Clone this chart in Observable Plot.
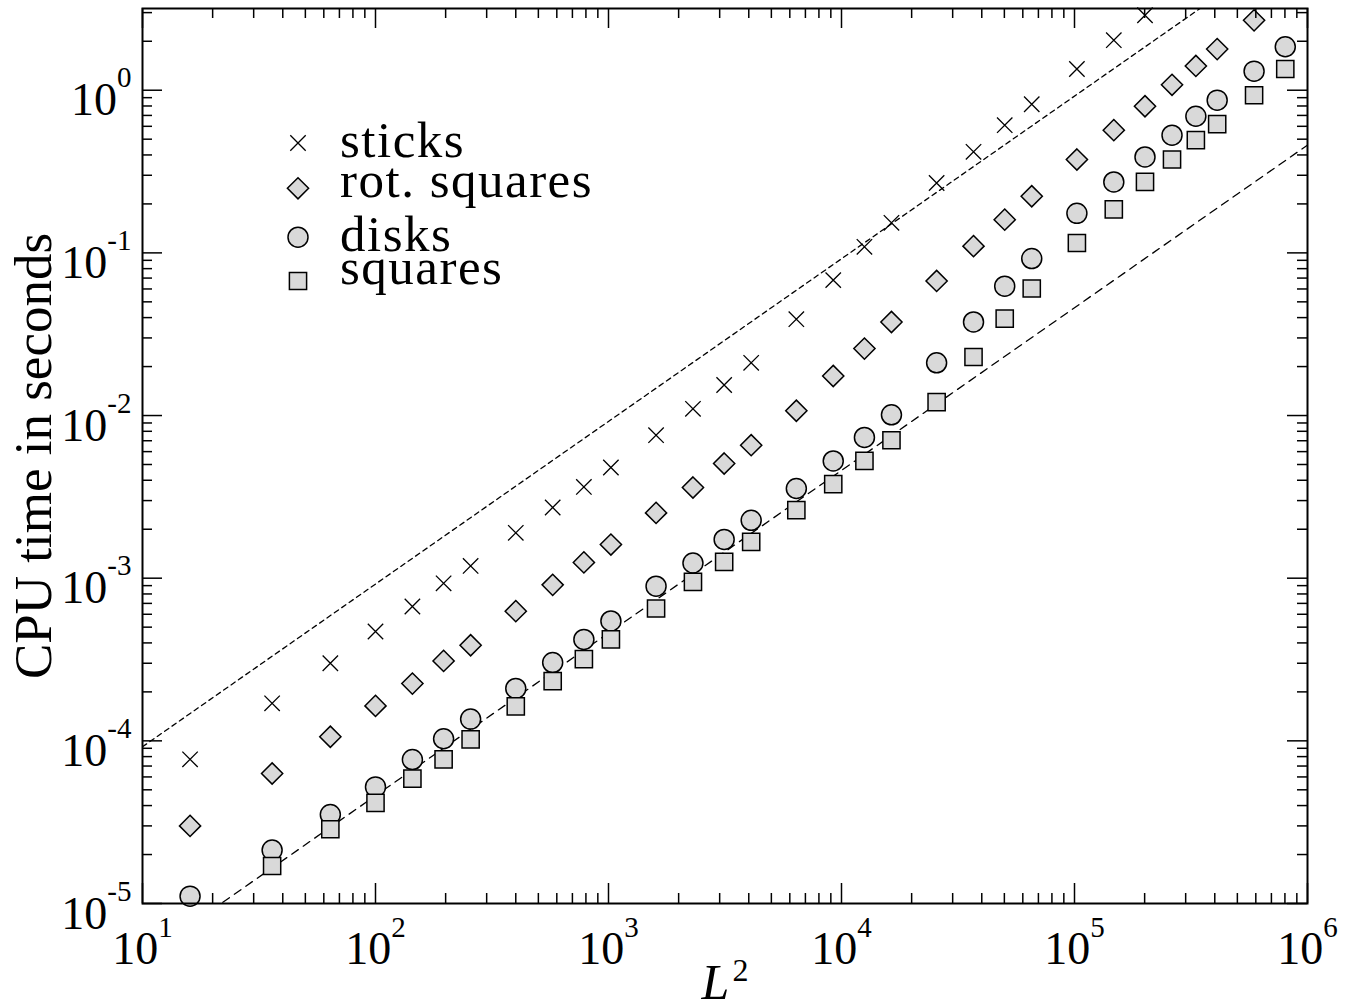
<!DOCTYPE html>
<html>
<head>
<meta charset="utf-8">
<script src="https://cdn.jsdelivr.net/npm/d3@7"></script>
<script src="https://cdn.jsdelivr.net/npm/@observablehq/plot@0.6"></script>
<style>
  html, body { margin: 0; padding: 0; background: #fff; }
  #chart svg { display: block; }
</style>
</head>
<body>
<div id="chart"></div>
<script>
// ---------- data ----------
const L2 = [16, 36, 64, 100, 144, 196, 256, 400, 576, 784, 1024, 1600, 2304, 3136, 4096, 6400, 9216,
            12544, 16384, 25600, 36864, 50176, 65536, 102400, 147456, 200704, 262144, 331776, 409600, 589824, 802816];

const sticks = [7.7e-5, 1.70e-4, 3.0e-4, 4.7e-4, 6.7e-4, 9.3e-4, 1.19e-3, 1.90e-3, 2.72e-3, 3.64e-3, 4.79e-3,
                7.57e-3, 1.10e-2, 1.54e-2, 2.11e-2, 3.91e-2, 6.8e-2, 0.109, 0.153, 0.269, 0.418, 0.61, 0.82,
                1.35, 2.03, 2.89, null, null, null, null, null];

const rotSquares = [3.0e-5, 6.3e-5, 1.06e-4, 1.64e-4, 2.25e-4, 3.1e-4, 3.87e-4, 6.27e-4, 9.1e-4, 1.25e-3, 1.61e-3,
                    2.52e-3, 3.61e-3, 5.07e-3, 6.57e-3, 1.07e-2, 1.75e-2, 2.58e-2, 3.76e-2, 6.72e-2, 0.110, 0.160,
                    0.223, 0.375, 0.568, 0.797, 1.08, 1.41, 1.79, 2.69, null];

const disks = [1.11e-5, 2.13e-5, 3.52e-5, 5.21e-5, 7.67e-5, 1.03e-4, 1.36e-4, 2.10e-4, 3.03e-4, 4.2e-4, 5.46e-4,
               8.93e-4, 1.24e-3, 1.73e-3, 2.27e-3, 3.56e-3, 5.26e-3, 7.33e-3, 1.01e-2, 2.11e-2, 3.76e-2, 6.24e-2,
               9.23e-2, 0.175, 0.273, 0.389, 0.529, 0.692, 0.869, 1.31, 1.85];

const squares = [null, 1.70e-5, 2.86e-5, 4.15e-5, 5.86e-5, 7.7e-5, 1.02e-4, 1.63e-4, 2.33e-4, 3.18e-4, 4.2e-4,
                 6.51e-4, 9.49e-4, 1.26e-3, 1.67e-3, 2.62e-3, 3.79e-3, 5.26e-3, 7.05e-3, 1.21e-2, 2.29e-2, 3.94e-2,
                 6.04e-2, 0.115, 0.185, 0.273, 0.375, 0.493, 0.618, 0.931, 1.35];

const seriesNames = ["sticks", "rot. squares", "disks", "squares"];

// dashed guide lines (two end points each)
const fitUpperX = [10, 1e6];
const fitUpperY = [9.2e-5, 9.2];
const fitLowerX = [10, 1e6];
const fitLowerY = [4.6e-6, 0.46];

const xMajorTicks = [1e1, 1e2, 1e3, 1e4, 1e5, 1e6];
const yMajorTicks = [1e-5, 1e-4, 1e-3, 1e-2, 1e-1, 1e0];
const xTickLabels = ["10^1", "10^2", "10^3", "10^4", "10^5", "10^6"];
const yTickLabels = ["10^-5", "10^-4", "10^-3", "10^-2", "10^-1", "10^0"];
const xAxisTitle = "L^2";
const yAxisTitle = "CPU time in seconds";

const xDomain = [10, 1e6];
const yDomain = [1e-5, 3.18];

// ---------- layout / style ----------
const W = 1355, H = 1002;
const M = {top: 8, right: 48, bottom: 99, left: 142};
const FW = W - M.left - M.right;
const FH = H - M.top - M.bottom;
const FONT = "'Liberation Serif', 'Times New Roman', serif";
const GRAY = "#d9d9d9";

const minorMult = [2, 3, 4, 5, 6, 7, 8, 9];
const xMinorTicks = xMajorTicks.slice(0, -1).flatMap(d => minorMult.map(m => m * d));
const yMinorTicks = yMajorTicks.flatMap(d => minorMult.map(m => m * d)).filter(v => v <= yDomain[1]);

const rows = ys => L2.map((x, i) => ({x, y: ys[i]})).filter(d => d.y != null);
const line = (xs, ys) => xs.map((x, i) => ({x, y: ys[i]}));

// symbols
const symTimes = {draw(c) { const h = 7.7; c.moveTo(-h, -h); c.lineTo(h, h); c.moveTo(-h, h); c.lineTo(h, -h); }};
const symDiamond = {draw(c) { const h = 10.6; c.moveTo(0, -h); c.lineTo(h, 0); c.lineTo(0, h); c.lineTo(-h, 0); c.closePath(); }};
const symCircle = {draw(c) { const r = 10; c.moveTo(r, 0); c.arc(0, 0, r, 0, 2 * Math.PI); c.closePath(); }};
const symSquare = {draw(c) { const h = 8.6; c.moveTo(-h, -h); c.lineTo(h, -h); c.lineTo(h, h); c.lineTo(-h, h); c.closePath(); }};

const styles = [
  {symbol: symTimes, fill: "none", stroke: "black", strokeWidth: 1.3},
  {symbol: symDiamond, fill: GRAY, stroke: "black", strokeWidth: 1.5},
  {symbol: symCircle, fill: GRAY, stroke: "black", strokeWidth: 1.5},
  {symbol: symSquare, fill: GRAY, stroke: "black", strokeWidth: 1.5}
];
const seriesData = [sticks, rotSquares, disks, squares];

const legendMarkDy = [134.5, 179.8, 228.7, 272.5];
const legendTextDy = [148.7, 188.7, 242, 275.5];

const tickLen = {major: 20, minor: 10};
const ticksX = (vals, len) => [
  Plot.tickX(vals, {x: d => d, insetTop: FH - len, stroke: "black", strokeWidth: 1.5}),
  Plot.tickX(vals, {x: d => d, insetBottom: FH - len, stroke: "black", strokeWidth: 1.5})
];
const ticksY = (vals, len) => [
  Plot.tickY(vals, {y: d => d, insetRight: FW - len, stroke: "black", strokeWidth: 1.5}),
  Plot.tickY(vals, {y: d => d, insetLeft: FW - len, stroke: "black", strokeWidth: 1.5})
];

const marks = [
  Plot.line(line(fitUpperX, fitUpperY), {x: "x", y: "y", stroke: "black", strokeWidth: 1.3, strokeDasharray: "5,4", clip: true}),
  Plot.line(line(fitLowerX, fitLowerY), {x: "x", y: "y", stroke: "black", strokeWidth: 1.3, strokeDasharray: "8,6", clip: true}),
  ...seriesData.map((ys, i) => Plot.dot(rows(ys), {x: "x", y: "y", r: 10, ...styles[i]})),
  Plot.frame({stroke: "black", strokeWidth: 2}),
  ...ticksX(xMajorTicks, tickLen.major),
  ...ticksX(xMinorTicks, tickLen.minor),
  ...ticksY(yMajorTicks, tickLen.major),
  ...ticksY(yMinorTicks, tickLen.minor),
  Plot.axisX({ticks: xMajorTicks, tickSize: 0, tickPadding: 60, lineAnchor: "bottom",
              tickFormat: d => xTickLabels[xMajorTicks.indexOf(d)], fontSize: 46, fontFamily: FONT, fill: "black", label: null}),
  Plot.axisY({ticks: yMajorTicks, tickSize: 0, tickPadding: 11, lineAnchor: "bottom", dy: 25,
              tickFormat: d => yTickLabels[yMajorTicks.indexOf(d)], fontSize: 46, fontFamily: FONT, fill: "black", label: null}),
  Plot.text([yAxisTitle], {x: null, y: null, text: d => d, frameAnchor: "left", dx: -92, rotate: -90,
              textAnchor: "middle", lineAnchor: "bottom", fontSize: 53, fontFamily: FONT, fill: "black"}),
  Plot.text([xAxisTitle], {x: null, y: null, text: d => d, frameAnchor: "bottom", dy: 95,
              textAnchor: "middle", lineAnchor: "bottom", fontSize: 50, fontStyle: "italic", fontFamily: FONT, fill: "black"}),
  ...seriesNames.flatMap((name, i) => [
    Plot.dot([name], {x: null, y: null, frameAnchor: "top-left", dx: 155.5, dy: legendMarkDy[i], r: 10, ...styles[i]}),
    Plot.text([name], {x: null, y: null, text: d => d, frameAnchor: "top-left", dx: 197.5, dy: legendTextDy[i],
                textAnchor: "start", lineAnchor: "bottom", fontSize: 51, fontFamily: FONT, fill: "black"})
  ])
];

const chart = Plot.plot({
  width: W, height: H,
  marginTop: M.top, marginRight: M.right, marginBottom: M.bottom, marginLeft: M.left,
  x: {type: "log", domain: xDomain},
  y: {type: "log", domain: yDomain},
  style: {background: "white", fontFamily: FONT, overflow: "visible"},
  marks
});

// convert "base^sup" labels into real superscripts
function supify(t, supSize, raise, gap) {
  const ns = "http://www.w3.org/2000/svg";
  const s = t.textContent;
  if (!s.includes("^")) return;
  const [base, sup] = s.split("^");
  t.textContent = "";
  const a = document.createElementNS(ns, "tspan");
  a.textContent = base;
  t.appendChild(a);
  const b = document.createElementNS(ns, "tspan");
  b.setAttribute("font-size", supSize + "px");
  b.setAttribute("font-style", "normal");
  b.setAttribute("dy", -raise);
  if (gap) b.setAttribute("dx", gap);
  b.textContent = sup;
  t.appendChild(b);
}
chart.querySelectorAll("text").forEach(t => {
  const s = t.textContent;
  if (xTickLabels.includes(s)) supify(t, 29, 27, 0);
  else if (yTickLabels.includes(s)) supify(t, 29, 28, 0);
  else if (s === xAxisTitle) supify(t, 32, 18, 3);
  else if (seriesNames.includes(s)) t.style.letterSpacing = "1.5px";
});

document.getElementById("chart").appendChild(chart);
</script>
</body>
</html>
